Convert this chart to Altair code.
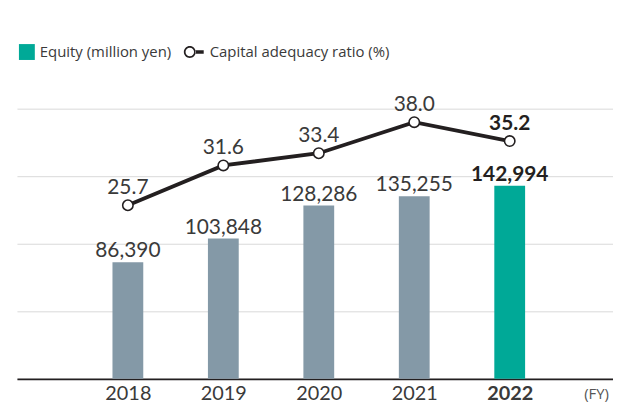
import altair as alt
import pandas as pd

years = [2018, 2019, 2020, 2021, 2022]
equity = [86390, 103848, 128286, 135255, 142994]
ratio = [25.7, 31.6, 33.4, 38.0, 35.2]
series = ["Equity (million yen)", "Capital adequacy ratio (%)"]

df = pd.DataFrame({"year": years, "equity": equity, "ratio": ratio})
leg = pd.DataFrame({"series": series})

GRAY = "#8499a7"
TEAL = "#00a997"
DARK = "#231f20"
TXT = "#3a3a3a"
NUMFONT = "Lato"
LEGFONT = "Open Sans"

xs = alt.Scale(domain=[2016.89, 2023.03], nice=False, zero=False)
x_axis = alt.Axis(values=years, format="d", ticks=False, grid=False,
                  domainColor=DARK, domainWidth=1.6,
                  labelFont=NUMFONT, labelFontSize=20, labelColor=TXT,
                  labelPadding=5,
                  labelFontWeight=alt.expr("datum.value == 2022 ? 'bold' : 'normal'"),
                  title="(FY)", titleFont=LEGFONT, titleFontSize=15,
                  titleFontWeight="normal", titleColor="#555555",
                  titleX=583, titleY=15, titleBaseline="middle",
                  titleAlign="center", titleAngle=0)
x = alt.X("year:Q", scale=xs, axis=x_axis)

ys_eq = alt.Scale(domain=[0, 200000], nice=False)
ys_r = alt.Scale(domain=[0, 40], nice=False)
y_axis = alt.Axis(values=[0, 50000, 100000, 150000, 200000], labels=False,
                  ticks=False, domain=False, title=None,
                  gridColor="#d9d9d9", gridWidth=1)
y_eq = alt.Y("equity:Q", scale=ys_eq, axis=y_axis)
y_r = alt.Y("ratio:Q", scale=ys_r, axis=None)

base = alt.Chart(df)

bars = base.mark_bar(size=31).encode(
    x=x, y=y_eq,
    color=alt.condition("datum.year == 2022", alt.value(TEAL), alt.value(GRAY)),
)
bar_txt = base.mark_text(baseline="alphabetic", dy=-5, font=NUMFONT, fontSize=21,
                         color=TXT).encode(
    x=x, y=y_eq, text=alt.Text("equity:Q", format=",.0f"),
).transform_filter("datum.year != 2022")
bar_txt_b = base.mark_text(baseline="alphabetic", dy=-5, font=NUMFONT, fontSize=21,
                           fontWeight="bold", color=DARK).encode(
    x=x, y=y_eq, text=alt.Text("equity:Q", format=",.0f"),
).transform_filter("datum.year == 2022")

line = base.mark_line(color=DARK, strokeWidth=3.8).encode(x=x, y=y_r)
pts = base.mark_point(filled=True, fill="white", stroke=DARK, strokeWidth=1.6,
                      size=110, opacity=1).encode(x=x, y=y_r)
r_txt = base.mark_text(baseline="alphabetic", dy=-11, font=NUMFONT, fontSize=21,
                       color=TXT).encode(
    x=x, y=y_r, text=alt.Text("ratio:Q", format=".1f"),
).transform_filter("datum.year != 2022")
r_txt_b = base.mark_text(baseline="alphabetic", dy=-11, font=NUMFONT, fontSize=21,
                         fontWeight="bold", color=DARK).encode(
    x=x, y=y_r, text=alt.Text("ratio:Q", format=".1f"),
).transform_filter("datum.year == 2022")

SQUARE = "M-1,-0.8H0.6V0.8H-1Z"
RING = ("M-1.5,0A0.6,0.6 0 1,0 -0.3,0A0.6,0.6 0 1,0 -1.5,0Z"
        "M-1.33,0A0.43,0.43 0 1,1 -0.47,0A0.43,0.43 0 1,1 -1.33,0Z"
        "M-0.35,-0.17H0.5V0.17H-0.35Z")

leg_props = dict(title=None, orient="none", legendX=2, legendY=-67,
                 direction="horizontal", padding=0,
                 symbolSize=400, symbolStrokeWidth=0,
                 symbolOpacity=1, labelOffset=1, labelLimit=300,
                 columnPadding=12, labelFont=LEGFONT,
                 labelFontSize=15, labelColor=TXT,
                 labelBaseline="middle")

legend_layer = alt.Chart(leg).mark_point(filled=True, opacity=1).encode(
    x=alt.value(-500), y=alt.value(-500),
    color=alt.Color("series:N", scale=alt.Scale(domain=series, range=[TEAL, DARK]),
                    legend=alt.Legend(**leg_props)),
    shape=alt.Shape("series:N", scale=alt.Scale(domain=series, range=[SQUARE, RING]),
                    legend=alt.Legend(**leg_props)),
)

bar_part = alt.layer(bars, bar_txt, bar_txt_b)
line_part = alt.layer(line, pts, r_txt, r_txt_b)

chart = alt.layer(bar_part, line_part, legend_layer).resolve_scale(
    y="independent"
).properties(
    width=600, height=272,
    autosize=alt.AutoSizeParams(type="none"),
    padding={"left": 9, "top": 100, "right": 0, "bottom": 26},
).configure_view(stroke=None)

chart.save("out.html", embed_options={"renderer": "svg", "actions": False})
